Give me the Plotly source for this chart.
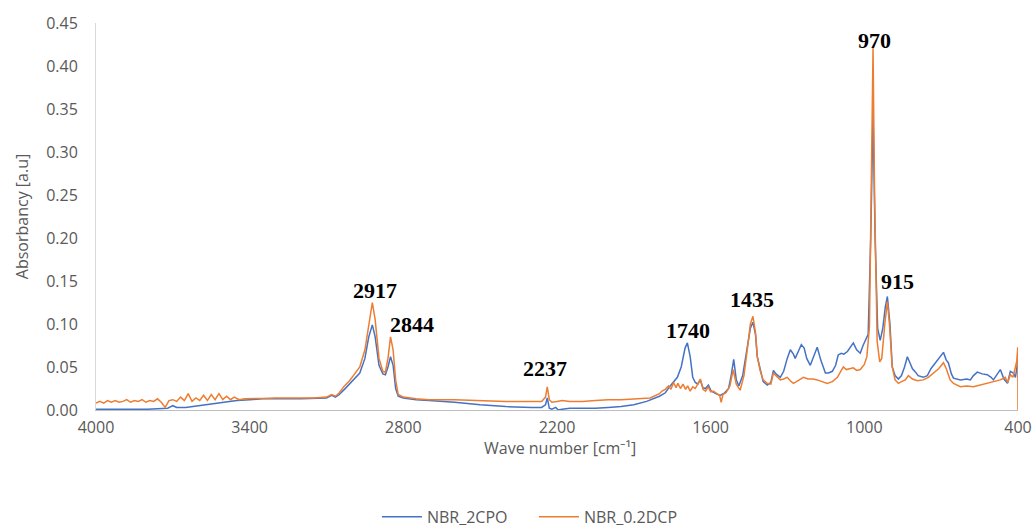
import plotly.graph_objects as go

# ---------------- data ----------------
wn_cpo = [4000, 3900, 3800, 3720, 3700, 3685, 3650, 3600, 3550, 3500, 3450, 3400, 3350, 3300, 3200,
          3100, 3080, 3065, 3050, 3030, 3010, 2990, 2970, 2950, 2935, 2921, 2910, 2895, 2880, 2870,
          2860, 2850, 2840, 2830, 2820, 2800, 2750, 2700, 2600, 2500, 2400, 2300, 2260, 2245, 2238,
          2230, 2220, 2205, 2195, 2180, 2150, 2100, 2050, 2000, 1950, 1900, 1850, 1800, 1777, 1758,
          1740, 1730, 1715, 1700, 1691, 1680, 1670, 1660, 1650, 1641, 1630, 1620, 1609, 1598, 1580,
          1563, 1545, 1530, 1520, 1510, 1500, 1490, 1475, 1460, 1445, 1435, 1425, 1418, 1406, 1395,
          1379, 1365, 1355, 1345, 1328, 1315, 1301, 1289, 1277, 1270, 1258, 1246, 1235, 1225, 1211,
          1198, 1184, 1170, 1160, 1152, 1140, 1125, 1112, 1102, 1090, 1080, 1066, 1055, 1043, 1030,
          1016, 1005, 992, 985, 975, 966, 958, 948, 938, 928, 918, 910, 900, 891, 880,
          867, 855, 843, 832, 822, 812, 800, 790, 770, 754, 740, 730, 715, 700, 691,
          680, 672, 660, 652, 625, 600, 586, 574, 559, 540, 520, 505, 496, 485, 469,
          455, 441, 430, 418, 410, 404, 400]
abs_cpo = [0.001, 0.001, 0.001, 0.002, 0.005, 0.003, 0.003, 0.005, 0.007, 0.009, 0.011, 0.012, 0.013, 0.013, 0.013,
           0.014, 0.017, 0.015, 0.018, 0.024, 0.030, 0.036, 0.043, 0.060, 0.085, 0.099, 0.085, 0.052, 0.042, 0.041,
           0.050, 0.062, 0.052, 0.025, 0.016, 0.014, 0.012, 0.011, 0.009, 0.006, 0.004, 0.003, 0.003, 0.006, 0.014,
           0.002, 0.001, 0.003, 0.000, 0.001, 0.002, 0.002, 0.002, 0.003, 0.004, 0.006, 0.010, 0.016, 0.020, 0.028,
           0.034, 0.038, 0.050, 0.072, 0.078, 0.062, 0.038, 0.032, 0.030, 0.035, 0.026, 0.025, 0.029, 0.022, 0.019,
           0.017, 0.020, 0.025, 0.040, 0.059, 0.035, 0.028, 0.040, 0.070, 0.095, 0.102, 0.088, 0.062, 0.045, 0.033,
           0.029, 0.032, 0.046, 0.042, 0.038, 0.045, 0.060, 0.070, 0.065, 0.060, 0.068, 0.076, 0.072, 0.060, 0.052,
           0.063, 0.073, 0.058, 0.048, 0.043, 0.043, 0.045, 0.052, 0.064, 0.066, 0.065, 0.068, 0.073, 0.078, 0.070,
           0.066, 0.075, 0.085, 0.088, 0.200, 0.345, 0.200, 0.095, 0.081, 0.095, 0.120, 0.132, 0.100, 0.050, 0.040,
           0.036, 0.040, 0.050, 0.062, 0.055, 0.048, 0.044, 0.040, 0.038, 0.040, 0.048, 0.052, 0.058, 0.064, 0.067,
           0.058, 0.055, 0.042, 0.037, 0.035, 0.036, 0.035, 0.040, 0.044, 0.042, 0.041, 0.038, 0.035, 0.040, 0.047,
           0.036, 0.031, 0.045, 0.043, 0.038, 0.050, 0.072]

wn_dcp = [4000, 3985, 3970, 3955, 3940, 3925, 3910, 3895, 3880, 3865, 3850, 3835, 3820, 3805, 3790,
          3775, 3760, 3745, 3730, 3715, 3700, 3685, 3670, 3655, 3640, 3625, 3610, 3595, 3580, 3565,
          3550, 3535, 3520, 3505, 3490, 3475, 3460, 3440, 3420, 3400, 3350, 3300, 3250, 3200, 3150,
          3100, 3080, 3065, 3050,
          3030, 3010, 2990, 2970, 2950, 2935, 2921, 2910, 2895, 2880, 2870, 2860, 2850, 2840, 2830,
          2820, 2800, 2750, 2700, 2600, 2500, 2400, 2300, 2260, 2245, 2238, 2230, 2220, 2200, 2180,
          2150, 2100, 2050, 2000, 1950, 1900, 1875, 1836, 1800, 1790, 1777, 1765, 1755, 1745, 1735,
          1728, 1718, 1708, 1698, 1690, 1680, 1670, 1660, 1650, 1640, 1630, 1620, 1610, 1600, 1590,
          1575, 1565, 1559, 1552, 1540, 1525, 1512, 1500, 1485, 1470, 1455, 1445, 1435, 1425, 1418,
          1406, 1395, 1379, 1365, 1355, 1345, 1328, 1315, 1301, 1289, 1277, 1265, 1250, 1238, 1220,
          1200, 1184, 1165, 1145, 1125, 1105, 1090, 1082, 1070, 1060, 1043, 1030, 1016, 1000, 990,
          980, 972, 966, 960, 950, 940, 932, 920, 910, 902, 891, 880, 867, 855, 840,
          828, 812, 793, 770, 750, 730, 710, 691, 680, 665, 652, 625, 600, 574, 545,
          520, 496, 469, 450, 440, 430, 420, 410, 404, 401, 400]
abs_dcp = [0.008, 0.010, 0.008, 0.011, 0.009, 0.011, 0.009, 0.010, 0.012, 0.009, 0.011, 0.010, 0.012, 0.009, 0.011,
           0.010, 0.013, 0.009, 0.003, 0.011, 0.012, 0.010, 0.015, 0.011, 0.019, 0.010, 0.014, 0.011, 0.017, 0.011,
           0.018, 0.012, 0.019, 0.012, 0.016, 0.012, 0.015, 0.012, 0.013, 0.013, 0.0135, 0.014, 0.014, 0.014, 0.014,
           0.015, 0.018, 0.016, 0.020,
           0.028, 0.034, 0.042, 0.050, 0.070, 0.100, 0.125, 0.105, 0.060, 0.045, 0.044, 0.060, 0.085, 0.070, 0.035,
           0.018, 0.015, 0.013, 0.012, 0.012, 0.011, 0.010, 0.010, 0.010, 0.015, 0.027, 0.012, 0.009, 0.010, 0.011,
           0.010, 0.010, 0.011, 0.012, 0.012, 0.013, 0.013, 0.014, 0.019, 0.022, 0.024, 0.028, 0.024, 0.032, 0.026,
           0.031, 0.025, 0.030, 0.024, 0.028, 0.022, 0.027, 0.025, 0.031, 0.036, 0.024, 0.022, 0.027, 0.021, 0.022,
           0.019, 0.017, 0.009, 0.018, 0.020, 0.028, 0.047, 0.030, 0.023, 0.040, 0.075, 0.100, 0.109, 0.090, 0.062,
           0.045, 0.035, 0.031, 0.030, 0.043, 0.040, 0.035, 0.036, 0.038, 0.034, 0.031, 0.033, 0.036, 0.038, 0.036,
           0.036, 0.035, 0.033, 0.031, 0.033, 0.038, 0.046, 0.050, 0.047, 0.048, 0.049, 0.046, 0.047, 0.053, 0.062,
           0.097, 0.250, 0.421, 0.250, 0.080, 0.056, 0.060, 0.100, 0.126, 0.100, 0.050, 0.035, 0.031, 0.033, 0.035,
           0.040, 0.036, 0.034, 0.035, 0.038, 0.043, 0.048, 0.055, 0.048, 0.035, 0.031, 0.027, 0.028, 0.027, 0.029,
           0.031, 0.033, 0.035, 0.038, 0.032, 0.041, 0.038, 0.050, 0.058, 0.073, 0.000]

peak_labels = ["2917", "2844", "2237", "1740", "1435", "970", "915"]
peak_label_x = [2910, 2766, 2246, 1688, 1438, 961, 871]
peak_label_y = [0.1395, 0.100, 0.0477, 0.092, 0.128, 0.430, 0.149]

x_ticks = [4000, 3400, 2800, 2200, 1600, 1000, 400]
y_ticks = [0.00, 0.05, 0.10, 0.15, 0.20, 0.25, 0.30, 0.35, 0.40, 0.45]

# ---------------- figure ----------------
GREY = "#595959"
FONT = "Open Sans"

fig = go.Figure()
fig.add_trace(go.Scatter(x=wn_cpo, y=abs_cpo, mode="lines", name="NBR_2CPO",
                         line=dict(color="#4472C4", width=1.5)))
fig.add_trace(go.Scatter(x=wn_dcp, y=abs_dcp, mode="lines", name="NBR_0.2DCP",
                         line=dict(color="#ED7D31", width=1.5)))

for t, xv, yv in zip(peak_labels, peak_label_x, peak_label_y):
    fig.add_annotation(x=xv, y=yv, text="<b>%s</b>" % t, showarrow=False,
                       font=dict(family="Liberation Serif", size=22, color="black"),
                       xanchor="center", yanchor="middle")

# x-axis title placed close under the tick labels, as in the reference
fig.add_annotation(xref="paper", yref="paper", x=0.503, y=-0.099,
                   text="Wave number [cm⁻¹]", showarrow=False,
                   xanchor="center", yanchor="middle",
                   font=dict(family=FONT, size=16, color=GREY))

fig.update_layout(
    width=1035, height=528,
    margin=dict(l=96, r=17, t=23, b=118, autoexpand=False),
    paper_bgcolor="white", plot_bgcolor="white",
    font=dict(family=FONT, size=16, color=GREY),
    showlegend=True,
    legend=dict(orientation="h", x=0.475, xanchor="center", y=-0.276, yanchor="middle",
                font=dict(family=FONT, size=16, color=GREY), itemwidth=40,
                entrywidth=102, entrywidthmode="pixels",
                traceorder="normal"),
)
fig.update_xaxes(range=[4000, 400], tickmode="array", tickvals=x_ticks,
                 ticktext=[str(v) for v in x_ticks], automargin=False,
                 showgrid=False, zeroline=False, showline=True, linecolor="#BFBFBF", linewidth=1,
                 ticks="outside", ticklen=3, tickcolor="rgba(0,0,0,0)")
fig.update_yaxes(range=[0, 0.45], tickmode="array", tickvals=y_ticks,
                 ticktext=["%.2f" % v for v in y_ticks], automargin=False,
                 showgrid=False, zeroline=False, showline=True, linecolor="#D9D9D9", linewidth=1,
                 ticks="", ticklabelstandoff=14,
                 title=dict(text="Absorbancy [a.u]", standoff=13,
                            font=dict(family=FONT, size=16, color=GREY)))

fig.write_html("out.html", config={"displayModeBar": False},
               post_script="document.body.style.margin='0';")
